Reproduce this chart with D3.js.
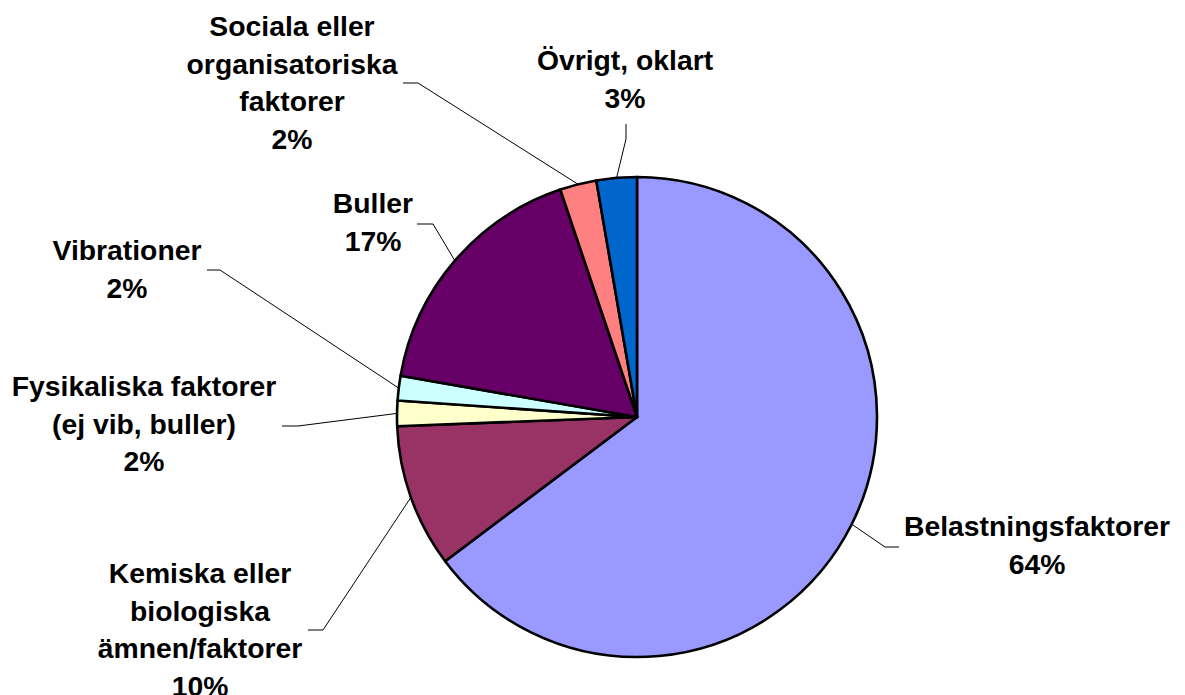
<!DOCTYPE html>
<html>
<head>
<meta charset="utf-8">
<script src="https://cdn.jsdelivr.net/npm/d3@7"></script>
<style>
  html, body { margin: 0; padding: 0; background: #fff; }
  svg { display: block; }
  text { font-family: "Liberation Sans", Arial, sans-serif; font-weight: bold; fill: #000; }
</style>
</head>
<body>
<svg id="chart" width="1185" height="695"></svg>
<script>
// ---- data ----
const categories = [
  "Belastningsfaktorer",
  "Kemiska eller biologiska ämnen/faktorer",
  "Fysikaliska faktorer (ej vib, buller)",
  "Vibrationer",
  "Buller",
  "Sociala eller organisatoriska faktorer",
  "Övrigt, oklart"
];
const labelLines = [
  ["Belastningsfaktorer"],
  ["Kemiska eller", "biologiska", "ämnen/faktorer"],
  ["Fysikaliska faktorer", "(ej vib, buller)"],
  ["Vibrationer"],
  ["Buller"],
  ["Sociala eller", "organisatoriska", "faktorer"],
  ["Övrigt, oklart"]
];
const values = [64.45, 9.6, 1.7, 1.65, 17.0, 2.45, 2.7];
const colors = ["#9999FF", "#993366", "#FFFFCC", "#CCFFFF", "#660066", "#FF8080", "#0066CC"];

// ---- layout (label placement) ----
const labelPos = [
  { x: 1037, y: 536, ex: 885, ey: 547, tx: 899, ty: 547 },
  { x: 200,  y: 583, ex: 323, ey: 630, tx: 308, ty: 630 },
  { x: 144,  y: 396, ex: 298, ey: 426, tx: 282, ty: 426 },
  { x: 127,  y: 260, ex: 220, ey: 270, tx: 207, ty: 270 },
  { x: 373,  y: 213, ex: 433, ey: 224, tx: 417, ty: 224 },
  { x: 292,  y: 36,  ex: 418, ey: 83,  tx: 403, ty: 83 },
  { x: 625,  y: 70,  ex: 626, ey: 139, tx: 626, ty: 124 }
];

const cx = 637, cy = 417, R = 240, lineH = 37.7;

const svg = d3.select("#chart");
const data = categories.map((c, i) => ({ name: c, value: values[i], i }));

const pie = d3.pie().value(d => d.value).sort(null);
const arcs = pie(data);
const arc = d3.arc().innerRadius(0).outerRadius(R);

const g = svg.append("g").attr("transform", `translate(${cx},${cy})`);
g.selectAll("path.slice")
  .data(arcs)
  .join("path")
  .attr("class", "slice")
  .attr("d", arc)
  .attr("fill", d => colors[d.data.i])
  .attr("stroke", "#000")
  .attr("stroke-width", 2.6)
  .attr("stroke-linejoin", "round");

// leader lines
svg.selectAll("path.leader")
  .data(arcs)
  .join("path")
  .attr("class", "leader")
  .attr("fill", "none")
  .attr("stroke", "#000")
  .attr("stroke-width", 1)
  .attr("d", d => {
    const a = (d.startAngle + d.endAngle) / 2;
    const p = labelPos[d.data.i];
    const px = cx + R * Math.sin(a), py = cy - R * Math.cos(a);
    return d3.line()([[px, py], [p.ex, p.ey], [p.tx, p.ty]]);
  });

// labels
const fmt = v => Math.round(v) + "%";
const lbl = svg.selectAll("text.lbl")
  .data(arcs)
  .join("text")
  .attr("class", "lbl")
  .attr("text-anchor", "middle")
  .attr("font-size", 27.5)
  .attr("transform", d => {
    const p = labelPos[d.data.i];
    return `translate(${p.x},${p.y}) scale(1.03,1)`;
  });
lbl.each(function(d) {
  const lines = labelLines[d.data.i].concat([fmt(d.data.value)]);
  d3.select(this).selectAll("tspan")
    .data(lines)
    .join("tspan")
    .attr("x", 0)
    .attr("y", (t, k) => k * lineH)
    .text(t => t);
});
</script>
</body>
</html>
